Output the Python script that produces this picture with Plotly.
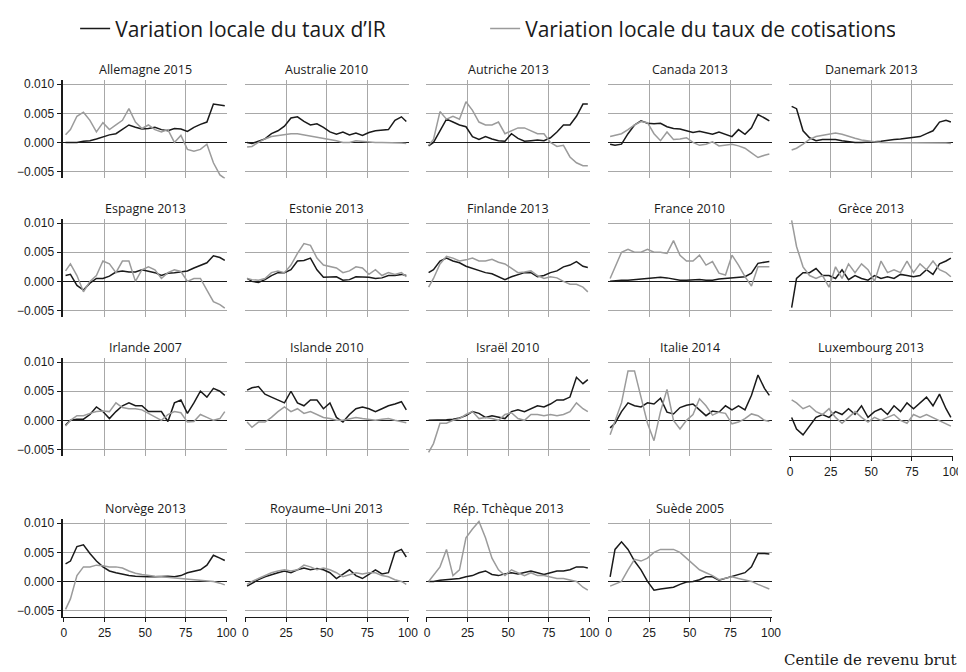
import plotly.graph_objects as go

# centile de revenu brut (points lus tous les 4 centiles)
X = [1, 4, 8, 12, 16, 20, 24, 28, 32, 36, 40, 44, 48, 52, 56, 60, 64, 68, 72, 76, 80, 84, 88, 92, 96, 99]

# valeurs en millièmes (x 0.001)
ALLEMAGNE_IR = [0.0, 0.0, 0.0, 0.2, 0.3, 0.6, 1.0, 1.3, 1.5, 2.2, 3.0, 2.6, 2.3, 2.4, 2.6, 2.2, 2.0, 2.4, 2.3, 1.9, 2.6, 3.1, 3.5, 6.6, 6.5, 6.3]
ALLEMAGNE_COT = [1.3, 2.2, 4.5, 5.2, 3.8, 1.8, 3.4, 2.2, 3.0, 3.8, 5.8, 3.5, 2.4, 3.0, 2.2, 1.8, 2.2, 0.0, 1.2, -1.2, -1.5, -1.2, -0.3, -3.5, -5.6, -6.2]
AUSTRALIE_IR = [0.0, -0.2, 0.2, 0.6, 1.5, 2.0, 2.8, 4.2, 4.4, 3.6, 3.0, 3.2, 2.6, 1.8, 1.4, 1.8, 1.3, 1.6, 1.2, 1.7, 2.0, 2.1, 2.2, 3.8, 4.4, 3.6]
AUSTRALIE_COT = [-0.8, -0.7, 0.0, 0.6, 1.0, 1.2, 1.4, 1.5, 1.5, 1.3, 1.2, 1.0, 0.8, 0.5, 0.3, 0.0, 0.0, 0.3, 0.2, 0.0, 0.0, 0.0, 0.0, 0.0, -0.1, -0.2]
AUTRICHE_IR = [-0.6, 0.0, 2.0, 4.0, 3.5, 3.0, 2.7, 1.0, 0.5, 1.0, 0.6, 0.3, 0.2, 1.5, 0.7, 0.2, 0.3, 0.4, 0.3, 0.8, 1.8, 3.0, 3.0, 4.5, 6.6, 6.6]
AUTRICHE_COT = [-0.5, 0.5, 5.3, 4.0, 4.5, 4.0, 7.0, 5.5, 3.5, 3.0, 3.0, 3.5, 1.5, 2.0, 2.5, 2.5, 2.0, 1.5, 1.5, 0.0, -0.7, -0.5, -2.5, -3.5, -4.0, -4.0]
CANADA_IR = [-0.3, -0.5, -0.3, 1.5, 3.0, 3.7, 3.3, 3.2, 3.3, 2.7, 2.4, 2.3, 2.0, 1.7, 1.9, 1.6, 1.4, 1.8, 1.4, 1.0, 2.2, 1.4, 2.5, 4.8, 4.2, 3.7]
CANADA_COT = [1.0, 1.2, 1.5, 2.2, 3.0, 3.6, 3.4, 1.5, 0.3, 1.8, 0.5, 0.6, 0.8, 0.0, -0.5, -0.3, 0.1, -0.6, -0.4, -0.3, -0.6, -1.0, -1.8, -2.6, -2.2, -2.0]
DANEMARK_IR = [6.2, 5.8, 2.0, 0.8, 0.3, 0.5, 0.5, 0.5, 0.3, 0.1, 0.0, 0.0, 0.0, 0.1, 0.2, 0.4, 0.5, 0.6, 0.7, 0.8, 1.0, 1.5, 2.0, 3.5, 3.8, 3.5]
DANEMARK_COT = [-1.3, -1.0, -0.3, 0.5, 1.0, 1.2, 1.5, 1.6, 1.4, 1.0, 0.7, 0.4, 0.2, 0.1, 0.0, 0.0, 0.0, 0.0, 0.0, 0.0, 0.0, 0.0, 0.0, -0.1, -0.1, -0.2]
ESPAGNE_IR = [1.0, 1.2, -0.7, -1.5, -0.3, 0.5, 0.5, 0.9, 1.6, 1.8, 1.6, 1.6, 2.0, 1.8, 1.5, 1.0, 1.4, 1.5, 1.7, 1.8, 2.3, 2.7, 3.2, 4.4, 4.1, 3.6]
ESPAGNE_COT = [1.8, 3.0, 1.0, -1.8, 0.0, 1.0, 3.5, 3.0, 1.5, 3.5, 3.5, 0.0, 2.0, 2.5, 2.0, 0.5, 1.5, 2.0, 1.7, 0.0, 0.5, 0.5, -1.5, -3.5, -4.0, -4.6]
ESTONIE_IR = [0.5, 0.0, -0.2, 0.3, 1.0, 1.5, 1.5, 2.0, 3.5, 3.6, 4.0, 2.0, 0.7, 0.7, 0.8, 0.2, 0.3, 0.8, 0.8, 0.7, 0.5, 0.6, 1.0, 1.0, 1.2, 1.0]
ESTONIE_COT = [0.5, 0.3, 0.2, 0.5, 1.5, 1.8, 1.5, 2.8, 4.8, 6.5, 6.2, 4.0, 2.8, 2.5, 2.3, 1.5, 1.8, 2.5, 2.3, 1.2, 2.0, 1.0, 1.5, 1.2, 1.5, 0.8]
FINLANDE_IR = [1.5, 2.0, 3.5, 4.0, 3.5, 3.2, 2.6, 2.2, 1.9, 1.5, 1.3, 0.8, 0.3, 0.8, 1.2, 1.5, 1.5, 0.8, 1.0, 1.5, 1.8, 2.5, 2.8, 3.4, 2.6, 2.4]
FINLANDE_COT = [-1.0, 0.5, 3.0, 4.3, 4.0, 3.5, 3.7, 4.0, 3.5, 3.5, 3.8, 3.3, 3.0, 2.2, 1.5, 1.6, 1.8, 1.0, 0.5, 0.8, 0.6, 0.0, -0.5, -0.5, -1.0, -1.8]
FRANCE_IR = [0.0, 0.1, 0.2, 0.2, 0.3, 0.3, 0.5, 0.6, 0.7, 0.6, 0.4, 0.2, 0.2, 0.3, 0.3, 0.2, 0.2, 0.4, 0.5, 0.5, 0.7, 0.8, 1.4, 3.1, 3.3, 3.4]
FRANCE_COT = [0.5, 2.5, 5.0, 5.5, 5.0, 5.0, 5.5, 5.0, 5.0, 4.8, 7.0, 4.5, 3.5, 3.5, 4.5, 2.8, 3.4, 1.4, 1.1, 4.5, 2.8, 0.8, -0.8, 2.5, 2.5, 2.5]
GRECE_IR = [-4.5, 0.5, 1.5, 1.5, 2.2, 1.0, 1.0, 0.5, 2.0, 0.3, 1.0, 0.5, 0.2, 1.0, 0.5, 0.8, 0.5, 1.2, 1.0, 0.8, 1.0, 2.0, 1.2, 3.0, 3.5, 4.0]
GRECE_COT = [10.5, 6.0, 2.5, 1.0, 0.5, 1.0, -1.0, 2.5, 0.5, 3.0, 1.5, 3.0, 2.0, 0.0, 3.5, 1.5, 2.0, 1.5, 3.5, 1.5, 3.0, 2.0, 3.5, 2.0, 1.5, 0.8]
IRLANDE_IR = [-0.8, 0.0, 0.2, 0.2, 1.0, 2.3, 1.5, 0.3, 1.5, 2.5, 3.0, 2.5, 2.5, 1.5, 1.5, 1.5, -0.2, 3.0, 3.5, 1.2, 3.0, 5.0, 4.0, 5.5, 5.0, 4.3]
IRLANDE_COT = [-1.0, 0.0, 0.8, 0.8, 1.2, 1.5, 1.6, 1.5, 3.0, 2.2, 2.0, 2.0, 1.8, 1.2, 0.5, 0.0, 1.0, 1.5, 1.3, -0.3, -0.2, 1.0, 0.5, 0.0, 0.3, 1.5]
ISLANDE_IR = [5.2, 5.6, 5.8, 4.5, 4.0, 3.5, 3.0, 5.0, 3.0, 2.5, 3.5, 3.5, 2.0, 3.0, 0.5, -0.3, 1.0, 2.0, 2.3, 2.0, 1.5, 2.0, 2.5, 2.8, 3.2, 1.8]
ISLANDE_COT = [-0.3, -1.2, -0.3, -0.3, 0.5, 1.5, 2.3, 1.5, 2.0, 1.2, 1.5, 1.0, 0.5, 0.3, 0.0, 0.0, 0.3, 0.5, 0.3, 0.2, 0.0, 0.2, 0.3, 0.0, -0.3, -0.4]
ISRAEL_IR = [0.0, 0.0, 0.0, 0.1, 0.2, 0.4, 0.8, 1.5, 1.2, 0.5, 0.8, 0.5, 0.3, 1.5, 1.8, 1.5, 2.0, 2.5, 2.3, 2.8, 3.5, 3.5, 4.0, 7.4, 6.3, 7.0]
ISRAEL_COT = [-5.5, -4.0, -0.5, -0.5, 0.0, 0.3, 1.0, 1.5, 0.3, 0.5, 0.3, 0.0, 1.0, 1.3, 0.3, 0.0, 1.0, 1.0, 0.8, 1.0, 0.8, 1.0, 1.5, 3.0, 2.0, 1.5]
ITALIE_IR = [-1.3, -0.5, 1.5, 3.0, 2.5, 2.3, 3.0, 2.8, 3.8, 1.4, 1.1, 2.2, 2.6, 2.8, 1.8, 0.8, 1.6, 1.4, 2.5, 1.8, 2.5, 1.8, 4.3, 7.8, 5.5, 4.3]
ITALIE_COT = [-2.5, 0.0, 3.0, 8.5, 8.5, 4.0, -0.5, -3.5, 1.5, 5.3, 0.0, -1.5, 0.0, 1.0, 3.7, 2.5, 0.9, 1.4, 1.2, -0.6, -0.3, 0.3, 1.1, 0.8, 0.0, -0.2]
LUXEMBOURG_IR = [0.5, -1.5, -2.5, -1.0, 0.5, 1.0, 0.5, 1.5, 1.0, 2.0, 1.0, 2.5, 0.5, 1.5, 2.0, 1.0, 2.5, 1.5, 3.0, 2.0, 3.0, 4.0, 2.5, 4.5, 2.0, 0.5]
LUXEMBOURG_COT = [3.5, 3.0, 2.0, 2.5, 1.5, 1.0, 2.0, 0.5, -0.5, 0.5, 1.5, 0.5, -0.3, 0.5, 0.0, 0.5, 1.0, 0.0, -0.5, 1.0, 0.5, 1.0, 0.5, 0.0, -0.5, -1.0]
NORVEGE_IR = [3.0, 3.5, 6.0, 6.3, 4.8, 3.5, 2.5, 1.8, 1.5, 1.2, 1.0, 0.9, 0.8, 0.8, 0.8, 0.9, 0.9, 0.8, 1.0, 1.5, 1.7, 2.0, 2.8, 4.5, 4.0, 3.6]
NORVEGE_COT = [-4.8, -3.0, 1.0, 2.5, 2.5, 2.8, 2.7, 2.5, 2.5, 2.3, 1.8, 1.4, 1.2, 1.0, 0.9, 0.8, 0.7, 0.6, 0.5, 0.4, 0.3, 0.2, 0.2, 0.0, -0.3, -0.6]
ROYAUME_UNI_IR = [-0.8, -0.3, 0.3, 0.8, 1.2, 1.5, 1.8, 1.5, 2.0, 2.3, 2.0, 2.2, 2.0, 1.5, 0.5, 1.2, 2.0, 1.0, 0.5, 1.2, 2.0, 1.3, 1.5, 5.0, 5.5, 4.2]
ROYAUME_UNI_COT = [-0.5, 0.0, 0.5, 1.0, 1.5, 1.8, 2.0, 1.8, 2.0, 2.8, 2.5, 2.0, 2.3, 2.0, 1.5, 0.8, 1.2, 1.5, 1.3, 1.5, 1.5, 1.0, 0.8, 0.3, 0.0, -0.5]
TCHEQUE_IR = [0.0, 0.0, 0.2, 0.3, 0.5, 0.5, 0.8, 1.0, 1.5, 1.8, 1.2, 1.0, 1.3, 1.5, 1.3, 1.5, 1.8, 1.5, 1.2, 1.5, 1.8, 1.8, 2.0, 2.5, 2.5, 2.3]
TCHEQUE_COT = [0.0, 1.0, 2.5, 5.5, 1.0, 2.0, 7.5, 9.0, 10.3, 7.5, 4.0, 2.0, 1.0, 2.0, 1.5, 1.0, 1.5, 1.0, 1.0, 0.8, 0.5, 0.5, 0.3, 0.0, -1.0, -1.5]
SUEDE_IR = [0.8, 5.5, 6.8, 5.5, 3.5, 2.0, 0.0, -1.5, -1.3, -1.2, -1.0, -0.5, -0.1, 0.0, 0.3, 0.8, 0.8, 0.2, 0.5, 0.8, 1.2, 1.5, 2.5, 4.8, 4.8, 4.7]
SUEDE_COT = [-0.8, -0.5, 0.0, 2.0, 3.8, 3.5, 4.0, 5.0, 5.5, 5.5, 5.5, 5.0, 4.0, 3.0, 2.0, 1.5, 1.0, 0.3, 0.5, 0.8, 0.5, 0.3, 0.0, -0.5, -1.0, -1.3]

PANELS = [
    ("Allemagne 2015", ALLEMAGNE_IR, ALLEMAGNE_COT),
    ("Australie 2010", AUSTRALIE_IR, AUSTRALIE_COT),
    ("Autriche 2013", AUTRICHE_IR, AUTRICHE_COT),
    ("Canada 2013", CANADA_IR, CANADA_COT),
    ("Danemark 2013", DANEMARK_IR, DANEMARK_COT),
    ("Espagne 2013", ESPAGNE_IR, ESPAGNE_COT),
    ("Estonie 2013", ESTONIE_IR, ESTONIE_COT),
    ("Finlande 2013", FINLANDE_IR, FINLANDE_COT),
    ("France 2010", FRANCE_IR, FRANCE_COT),
    ("Grèce 2013", GRECE_IR, GRECE_COT),
    ("Irlande 2007", IRLANDE_IR, IRLANDE_COT),
    ("Islande 2010", ISLANDE_IR, ISLANDE_COT),
    ("Israël 2010", ISRAEL_IR, ISRAEL_COT),
    ("Italie 2014", ITALIE_IR, ITALIE_COT),
    ("Luxembourg 2013", LUXEMBOURG_IR, LUXEMBOURG_COT),
    ("Norvège 2013", NORVEGE_IR, NORVEGE_COT),
    ("Royaume\u2013Uni 2013", ROYAUME_UNI_IR, ROYAUME_UNI_COT),
    ("Rép. Tchèque 2013", TCHEQUE_IR, TCHEQUE_COT),
    ("Suède 2005", SUEDE_IR, SUEDE_COT),
]

X_TICKS = [0, 25, 50, 75, 100]
Y_TICKS = [-0.005, 0.0, 0.005, 0.010]
Y_LABELS = ["\u22120.005", "0.000", "0.005", "0.010"]

W, H = 966, 672
LEFT0, PITCH, PW, PH = 53, 184, 166, 99
ROW_TOPS = [67.7, 207.7, 347.7, 510]
BLACK = "#1a1a1a"
GREY = "#9b9b9b"
GRID = "#a8a8a8"

fig = go.Figure()

for i, (title, ir, cot) in enumerate(PANELS):
    row, col = divmod(i, 5)
    n = "" if i == 0 else str(i + 1)
    left = LEFT0 + PITCH * col
    top = ROW_TOPS[row]
    bottom_axis = row == 3 or i == 14

    fig.add_trace(go.Scatter(
        x=X, y=[v / 1000 for v in ir], xaxis="x" + n, yaxis="y" + n,
        mode="lines", line=dict(color=BLACK, width=1.5),
        name="Variation locale du taux d\u2019IR", showlegend=(i == 0),
        legendgroup="ir", hoverinfo="skip"))
    fig.add_trace(go.Scatter(
        x=X, y=[v / 1000 for v in cot], xaxis="x" + n, yaxis="y" + n,
        mode="lines", line=dict(color=GREY, width=1.5),
        name="Variation locale du taux de cotisations", showlegend=(i == 0),
        legendgroup="cot", hoverinfo="skip"))

    fig.layout["xaxis" + n] = dict(
        domain=[left / W, (left + PW) / W], anchor="y" + n,
        range=[-0.4, 100.4], tickvals=X_TICKS,
        showgrid=True, gridcolor=GRID, gridwidth=1, zeroline=False,
        showticklabels=bottom_axis,
        ticks="outside" if bottom_axis else "", ticklen=4, tickcolor=BLACK,
        showline=bottom_axis, linecolor=BLACK, linewidth=1,
        tickfont=dict(family="Liberation Sans", size=12, color=BLACK),
        fixedrange=True)
    fig.layout["yaxis" + n] = dict(
        domain=[1 - (top + PH) / H, 1 - top / H], anchor="x" + n,
        range=[-0.0062, 0.0107], tickvals=Y_TICKS, ticktext=Y_LABELS,
        showgrid=True, gridcolor=GRID, gridwidth=1,
        zeroline=True, zerolinecolor=BLACK, zerolinewidth=1.3,
        showticklabels=(col == 0),
        ticks="outside" if col == 0 else "", ticklen=5, tickcolor=BLACK,
        showline=(col == 0), linecolor=BLACK, linewidth=1.5,
        tickfont=dict(family="Liberation Sans", size=12, color=BLACK),
        fixedrange=True)

    fig.add_annotation(
        x=(left + PW / 2) / W, y=1 - (top - 11) / H, xref="paper", yref="paper",
        text=title, showarrow=False, xanchor="center", yanchor="middle",
        font=dict(family="Open Sans", size=12.5, color=BLACK))

fig.add_annotation(
    x=960 / W, y=1 - 652 / H, xref="paper", yref="paper",
    text="Centile de revenu brut", showarrow=False,
    xanchor="right", yanchor="middle",
    font=dict(family="DejaVu Serif", size=15, color=BLACK))

fig.update_layout(
    width=W, height=H,
    margin=dict(l=0, r=0, t=0, b=0),
    paper_bgcolor="white", plot_bgcolor="white",
    showlegend=True,
    legend=dict(
        orientation="h", x=65 / W, y=1 - 16 / H, xanchor="left", yanchor="middle",
        font=dict(family="Open Sans", size=21, color=BLACK),
        entrywidth=365, entrywidthmode="pixels",
        bgcolor="rgba(0,0,0,0)"),
)

fig.write_html("out.html")
